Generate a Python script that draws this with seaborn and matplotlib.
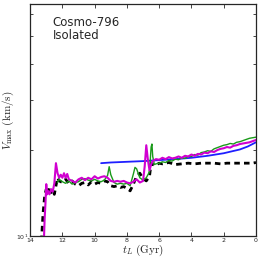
import numpy as np
import pandas as pd
import matplotlib
matplotlib.use("Agg")
import matplotlib.pyplot as plt
import seaborn as sns
from matplotlib.ticker import NullFormatter, FixedLocator

# lookback time (Gyr) and Vmax (km/s) for each track
t_black = [13.3, 13.2, 13.1, 13.0, 12.9, 12.8, 12.7, 12.6, 12.5, 12.4, 12.3, 12.2, 12.0, 11.8,
           11.6, 11.4, 11.2, 11.0, 10.8, 10.6, 10.4, 10.2, 10.0, 9.8, 9.6, 9.4, 9.2, 9.0, 8.8,
           8.6, 8.4, 8.2, 8.0, 7.8, 7.6, 7.4, 7.2, 7.0, 6.8, 6.6, 6.5, 6.4, 6.2, 6.0, 5.8, 5.4,
           5.0, 4.6, 4.2, 3.8, 3.4, 3.0, 2.6, 2.2, 1.8, 1.4, 1.0, 0.6, 0.2, 0.0]
v_black = [9.6, 12.0, 13.8, 14.6, 14.0, 14.8, 14.2, 14.6, 14.0, 15.0, 16.0, 15.6, 15.4, 15.8,
           15.3, 15.6, 15.2, 15.0, 15.3, 15.4, 15.1, 15.5, 15.2, 15.4, 15.3, 15.6, 15.5, 15.0, 14.9,
           15.0, 14.8, 14.9, 14.7, 14.4, 15.2, 16.2, 16.6, 15.9, 15.6, 16.2, 18.0, 17.8, 17.7, 18.0,
           17.9, 18.1, 17.8, 17.9, 18.0, 17.9, 18.0, 18.0, 18.0, 17.9, 18.0, 18.0, 18.0, 18.0,
           18.0, 18.1]

t_magenta = [13.15, 13.1, 13.05, 13.0, 12.95, 12.9, 12.8, 12.7, 12.6, 12.5, 12.4, 12.3, 12.2,
             12.1, 12.0, 11.9, 11.8, 11.7, 11.6, 11.4, 11.2, 11.0, 10.8, 10.6, 10.4, 10.2, 10.0,
             9.8, 9.6, 9.4, 9.2, 9.0, 8.8, 8.6, 8.4, 8.2, 8.0, 7.8, 7.6, 7.4, 7.2, 7.0, 6.9,
             6.8, 6.7, 6.6, 6.5, 6.4, 6.2, 6.0, 5.8, 5.6, 5.4, 5.2, 5.0, 4.8, 4.6, 4.4, 4.2,
             4.0, 3.8, 3.6, 3.4, 3.2, 3.0, 2.8, 2.6, 2.4, 2.2, 2.0, 1.8, 1.6, 1.4, 1.2, 1.0,
             0.8, 0.6, 0.4, 0.2, 0.0]
v_magenta = [9.5, 11.5, 13.0, 15.2, 14.0, 14.4, 14.0, 14.6, 14.3, 15.3, 18.0, 16.6, 16.0,
             16.4, 16.0, 16.6, 16.0, 16.5, 15.8, 15.6, 15.4, 15.8, 16.0, 15.7, 16.0, 15.8, 16.2,
             15.9, 16.1, 16.2, 16.0, 15.6, 15.5, 15.6, 15.5, 15.6, 15.4, 15.3, 15.5, 15.8, 15.4,
             15.6, 17.5, 20.8, 18.5, 17.0, 17.8, 18.3, 18.6, 18.5, 18.8, 18.6, 18.9, 18.7, 18.8,
             19.0, 18.8, 19.1, 19.0, 19.3, 19.1, 19.4, 19.3, 19.6, 19.5, 19.8, 19.7, 20.0, 20.2,
             20.3, 20.5, 20.4, 20.7, 20.8, 21.0, 21.1, 21.2, 21.3, 21.5, 21.7]

t_green = [12.3, 12.2, 12.0, 11.8, 11.6, 11.4, 11.2, 11.0, 10.8, 10.6, 10.4, 10.2, 10.0, 9.8,
           9.6, 9.4, 9.2, 9.1, 9.0, 8.8, 8.6, 8.4, 8.2, 8.0, 7.8, 7.6, 7.5, 7.4, 7.2, 7.0, 6.8,
           6.6, 6.5, 6.45, 6.4, 6.3, 6.2, 6.0, 5.8, 5.6, 5.4, 5.2, 5.0, 4.8, 4.6, 4.4, 4.2, 4.0,
           3.8, 3.6, 3.4, 3.2, 3.0, 2.8, 2.6, 2.4, 2.2, 2.0, 1.8, 1.6, 1.4, 1.2, 1.0, 0.8, 0.6,
           0.4, 0.2, 0.0]
v_green = [15.4, 15.8, 15.5, 15.3, 15.6, 15.2, 15.4, 15.5, 15.8, 15.9, 15.7, 15.6, 15.8, 15.6,
           15.5, 15.7, 16.3, 17.5, 16.4, 15.4, 15.2, 15.3, 15.2, 15.3, 15.0, 16.5, 17.4, 17.2,
           16.0, 15.7, 16.0, 16.8, 20.5, 21.0, 19.0, 17.8, 17.9, 18.0, 18.2, 18.1, 18.4, 18.3,
           18.6, 18.5, 18.8, 18.7, 19.0, 19.0, 19.3, 19.2, 19.6, 19.7, 19.9, 19.8, 20.2, 20.4,
           20.6, 20.8, 20.9, 21.1, 21.0, 21.3, 21.4, 21.6, 21.8, 22.0, 22.1, 22.2]

t_blue = [9.6, 9.0, 8.0, 7.0, 6.0, 5.0, 4.0, 3.0, 2.0, 1.5, 1.0, 0.5, 0.0]
v_blue = [18.0, 18.1, 18.2, 18.3, 18.45, 18.6, 18.8, 19.1, 19.5, 19.8, 20.1, 20.6, 21.3]

sns.set_style("ticks")
plt.rcParams["mathtext.fontset"] = "cm"
plt.rcParams["font.family"] = ["DejaVu Sans"]

fig = plt.figure(figsize=(2.62, 2.62), dpi=100)
ax = fig.add_axes([0.115, 0.099, 0.862, 0.886])

sns.lineplot(x=t_blue, y=v_blue, color="#1f1fff", lw=1.3, sort=False, ax=ax)
sns.lineplot(x=t_black, y=v_black, color="black", lw=2.0, ls=(0, (2, 1.5)), sort=False, ax=ax)
sns.lineplot(x=t_green, y=v_green, color="#1a9a1a", lw=1.0, sort=False, ax=ax)
sns.lineplot(x=t_magenta, y=v_magenta, color="#d000d0", lw=1.5, sort=False, ax=ax)

ax.set_yscale("log")
ax.set_ylim(10, 65)
ax.set_xlim(14, 0)
ax.set_xticks([14, 12, 10, 8, 6, 4, 2, 0])
ax.yaxis.set_major_locator(FixedLocator([10]))
ax.yaxis.set_minor_locator(FixedLocator([20, 30, 40, 50, 60]))
ax.yaxis.set_minor_formatter(NullFormatter())
ax.tick_params(which="both", direction="in", top=True, right=True, labelsize=4.5, pad=1.5)
ax.tick_params(which="major", length=3, width=0.6)
ax.tick_params(which="minor", length=2, width=0.6)
for s in ax.spines.values():
    s.set_linewidth(0.9)

ax.set_xlabel(r"$t_L\ (\rm Gyr)$", fontsize=8, labelpad=0)
ax.set_ylabel(r"$V_{\rm max}\ (\rm km/s)$", fontsize=8, labelpad=0)
ax.text(0.1, 0.95, "Cosmo-796\nIsolated", transform=ax.transAxes, fontsize=8.5,
        va="top", ha="left", linespacing=1.0)

fig.savefig("out.png", dpi=100)
